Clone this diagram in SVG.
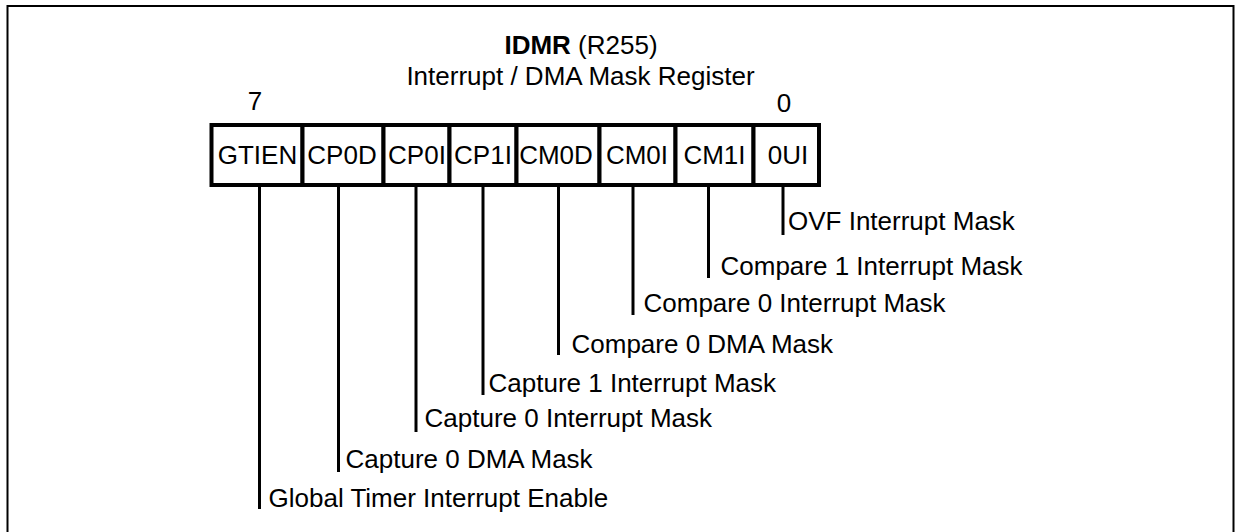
<svg xmlns="http://www.w3.org/2000/svg" width="1239" height="532" viewBox="0 0 1239 532">
<style>
text{font-family:"Liberation Sans",Arial,Helvetica,sans-serif;font-size:26px;fill:#000}
.c{text-anchor:middle}
.cell{fill:#fff;stroke:#000;stroke-width:4}
.conn line{stroke:#000;stroke-width:3}
</style>
<rect x="0" y="0" width="1239" height="532" fill="#fff"/>
<path d="M7.5,540 V6 H1233.5 V540" fill="none" stroke="#000" stroke-width="2"/>
<g id="title">
<text class="c" x="581" y="54"><tspan font-weight="bold">IDMR</tspan> (R255)</text>
<text class="c" x="580.5" y="85">Interrupt / DMA Mask Register</text>
<text class="c" x="255" y="110">7</text>
<text class="c" x="784" y="112">0</text>
</g>
<g id="bit7"><rect class="cell" x="211.5" y="125" width="91" height="60"/><text class="c" x="257.5" y="164">GTIEN</text></g>
<g id="bit6"><rect class="cell" x="302.5" y="125" width="81" height="60"/><text class="c" x="342" y="164">CP0D</text></g>
<g id="bit5"><rect class="cell" x="383.5" y="125" width="66" height="60"/><text class="c" x="417" y="164">CP0I</text></g>
<g id="bit4"><rect class="cell" x="449.5" y="125" width="67" height="60"/><text class="c" x="483" y="164">CP1I</text></g>
<g id="bit3"><rect class="cell" x="516.5" y="125" width="83" height="60"/><text class="c" x="556" y="164">CM0D</text></g>
<g id="bit2"><rect class="cell" x="599.5" y="125" width="76" height="60"/><text class="c" x="637" y="164">CM0I</text></g>
<g id="bit1"><rect class="cell" x="675.5" y="125" width="78" height="60"/><text class="c" x="714.5" y="164">CM1I</text></g>
<g id="bit0"><rect class="cell" x="753.5" y="125" width="65.5" height="60"/><text class="c" x="788" y="164">0UI</text></g>
<g id="connectors" class="conn">
<line x1="783" y1="187" x2="783" y2="235"/>
<line x1="708.5" y1="187" x2="708.5" y2="278"/>
<line x1="633" y1="187" x2="633" y2="315"/>
<line x1="558.5" y1="187" x2="558.5" y2="355"/>
<line x1="483" y1="187" x2="483" y2="395"/>
<line x1="416" y1="187" x2="416" y2="432"/>
<line x1="338.5" y1="187" x2="338.5" y2="472"/>
<line x1="259.5" y1="187" x2="259.5" y2="509"/>
</g>
<g id="desc0"><text x="788" y="230">OVF Interrupt Mask</text></g>
<g id="desc1"><text x="720.5" y="275">Compare 1 Interrupt Mask</text></g>
<g id="desc2"><text x="643.5" y="312">Compare 0 Interrupt Mask</text></g>
<g id="desc3"><text x="571.5" y="353">Compare 0 DMA Mask</text></g>
<g id="desc4"><text x="488.5" y="392">Capture 1 Interrupt Mask</text></g>
<g id="desc5"><text x="424.5" y="427">Capture 0 Interrupt Mask</text></g>
<g id="desc6"><text x="345.5" y="468">Capture 0 DMA Mask</text></g>
<g id="desc7"><text x="268.5" y="507">Global Timer Interrupt Enable</text></g>
</svg>
